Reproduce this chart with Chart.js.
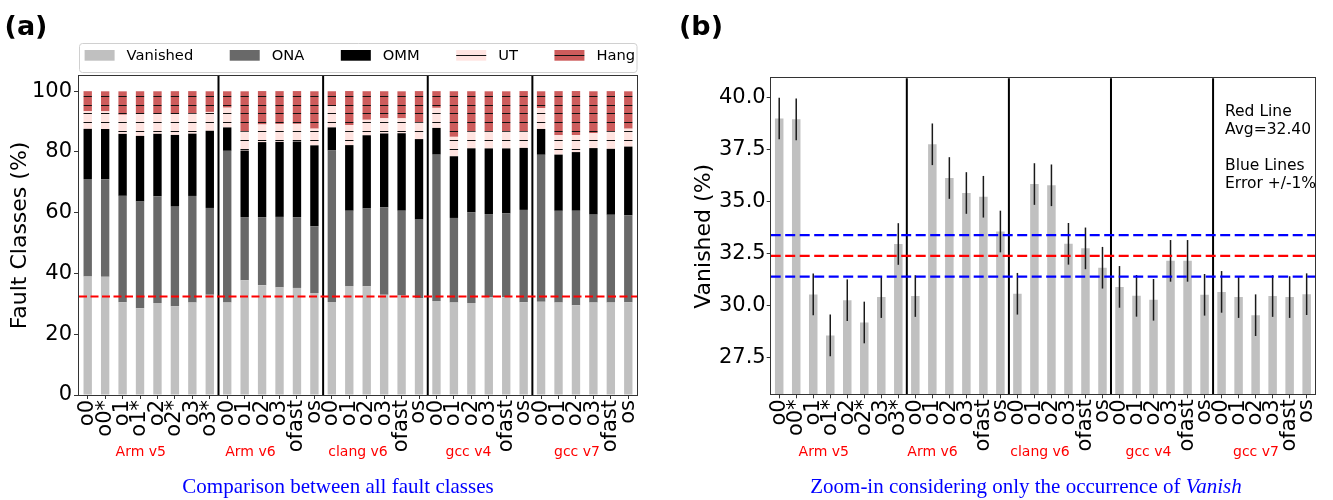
<!DOCTYPE html>
<html><head><meta charset="utf-8">
<script src="https://cdn.jsdelivr.net/npm/chart.js@4.4.1/dist/chart.umd.min.js"></script>
<style>
html,body{margin:0;padding:0;background:#fff;}
#wrap{position:relative;width:1333px;height:500px;overflow:hidden;background:#fff;}
#ca{position:absolute;left:0;top:0;}
#cb{position:absolute;left:666px;top:0;}
.lbl{position:absolute;white-space:nowrap;transform:translate(-50%,-50%);line-height:1;}
.panel{font-family:"DejaVu Sans";font-weight:bold;font-size:27px;color:#000;}
.grp{font-family:"DejaVu Sans";font-size:14px;color:#ff0000;}
.cap{font-family:"Liberation Serif";font-size:21px;color:#0000ff;}
</style></head><body>
<div id="wrap">
<canvas id="ca" width="666" height="500"></canvas>
<canvas id="cb" width="667" height="500"></canvas>
</div>
<script>
// ---------------- data ----------------
const categories = ['o0','o0*','o1','o1*','o2','o2*','o3','o3*',
  'o0','o1','o2','o3','ofast','os',
  'o0','o1','o2','o3','ofast','os',
  'o0','o1','o2','o3','ofast','os',
  'o0','o1','o2','o3','ofast','os'];
const groups = ['Arm v5','Arm v6','clang v6','gcc v4','gcc v7'];
const groupSizes = [8,6,6,6,6];
const seriesNames = ['Vanished','ONA','OMM','UT','Hang'];
const vanished = [39.0,38.96,30.55,28.58,30.27,29.2,30.42,32.97,
  30.47,37.76,36.14,35.42,35.24,33.57,
  30.58,35.85,35.79,32.98,32.76,31.83,
  30.91,30.48,30.29,32.16,32.16,30.53,
  30.67,30.42,29.55,30.47,30.42,30.56];
const ona = [32.1,32.0,35.0,35.1,35.1,32.8,35.1,28.6,
  49.9,20.8,22.4,23.2,23.3,22.0,
  49.9,24.8,25.6,28.8,27.9,25.9,
  48.2,27.8,29.8,27.4,27.6,30.4,
  48.4,30.2,31.1,28.9,28.9,28.6];
const omm = [16.5,16.6,20.4,21.6,20.6,23.6,20.5,25.4,
  7.7,21.9,24.7,24.7,24.9,26.6,
  7.6,21.6,24.1,24.3,25.5,26.5,
  8.8,20.3,21.1,21.6,21.4,20.4,
  8.5,18.5,19.3,21.9,21.7,22.6];
const ut = [5.8,5.8,6.3,7.2,6.5,6.9,6.7,6.2,
  6.5,6.3,5.8,5.9,5.8,5.5,
  7.0,6.6,5.1,5.0,4.9,5.4,
  6.6,6.4,5.5,5.5,5.5,5.4,
  6.9,6.4,5.6,4.9,5.8,5.9];
const hang = [6.6,6.6,7.7,7.5,7.5,7.5,7.3,6.8,
  5.4,13.2,11.0,10.8,10.8,12.3,
  4.9,11.2,9.4,8.9,8.9,10.4,
  5.5,15.0,13.3,13.3,13.3,13.3,
  5.5,14.5,14.5,13.8,13.2,12.3];
const vanishedErr = [1,1,1,1,1,1,1,1, 1,1,1,1,1,1, 1,1,1,1,1,1, 1,1,1,1,1,1, 1,1,1,1,1,1];
const AVG = 32.40;
const BAND = 1.0;
const yTicksA = [0,20,40,60,80,100];
const yTicksB = [27.5,30.0,32.5,35.0,37.5,40.0];

// ---------------- html texts ----------------
const wrap = document.getElementById('wrap');
function addText(cls, html, x, y){
  const d=document.createElement('div'); d.className='lbl '+cls; d.innerHTML=html;
  d.style.left=x+'px'; d.style.top=y+'px'; wrap.appendChild(d);
}
addText('panel','(a)',26,25);
addText('panel','(b)',701,25);
const grpXA=[140.8,250.4,358,468.5,577], grpXB=[823.8,932.5,1040,1148.5,1256];
groups.forEach((g,i)=>{ addText('grp',g,grpXA[i],451); addText('grp',g,grpXB[i],451); });
addText('cap','Comparison between all fault classes',338,486);
addText('cap','Zoom-in considering only the occurrence of <i>Vanish</i>',1026,486);

// ---------------- hatch patterns ----------------
function hatch(color, rows, tileH){
  const c=document.createElement('canvas'); c.width=8; c.height=tileH;
  const g=c.getContext('2d'); g.fillStyle=color; g.fillRect(0,0,8,tileH);
  g.fillStyle='#111'; rows.forEach(r=>g.fillRect(0,r,8,1));
  return g.createPattern(c,'repeat');
}
const hatchRows=[7,16,25,34,43,52];
const utPat = hatch('#ffe4e1', hatchRows, 53);
const hangPat = hatch('#cd5c5c', hatchRows, 53);
const legendFill = {UT: hatch('#ffe4e1', [55], 110), Hang: hatch('#cd5c5c', [55], 110)};

const FONT='DejaVu Sans';
const tickFont={family:FONT,size:21};

// ---------------- plugins ----------------
function seg(ctx,x1,y1,x2,y2){ctx.beginPath();ctx.moveTo(x1,y1);ctx.lineTo(x2,y2);ctx.stroke();}
function separators(chart){
  const {ctx,chartArea:a,scales:{x}}=chart;
  ctx.setLineDash([]); ctx.strokeStyle='#000'; ctx.lineWidth=2;
  let idx=0;
  groupSizes.slice(0,-1).forEach(n=>{ idx+=n;
    const px=(x.getPixelForValue(idx-1)+x.getPixelForValue(idx))/2;
    seg(ctx,px,a.top,px,a.bottom); });
}
function frame(chart){
  const {ctx,chartArea:a}=chart;
  ctx.setLineDash([]); ctx.strokeStyle='#333'; ctx.lineWidth=1;
  ctx.strokeRect(Math.round(a.left)-0.5,Math.round(a.top)-0.5,Math.round(a.right-a.left)+1,Math.round(a.bottom-a.top)+1);
}
const legendA={
  id:'legendA',
  afterDraw(chart){
    const {ctx,chartArea:a}=chart; ctx.save();
    ctx.strokeStyle='#d0d0d0'; ctx.lineWidth=1;
    ctx.beginPath(); ctx.roundRect(a.left+0.5,43.5,a.right-a.left-0.5,29,3); ctx.stroke();
    ctx.font='14.7px "DejaVu Sans"'; ctx.textBaseline='middle'; ctx.textAlign='left';
    let x=84.6;
    chart.data.datasets.forEach(ds=>{
      ctx.fillStyle=legendFill[ds.label]||ds.backgroundColor;
      ctx.fillRect(x,50,30,10.7);
      ctx.fillStyle='#000'; ctx.fillText(ds.label,x+42,55.8);
      x+=42+ctx.measureText(ds.label).width+36.5;
    });
    ctx.restore();
  }
};
const overlayA={
  id:'overlayA',
  afterDatasetsDraw(chart){
    const {ctx,chartArea:a,scales:{y}}=chart; ctx.save();
    separators(chart);
    ctx.strokeStyle='#ff0000'; ctx.lineWidth=2; ctx.setLineDash([8,3.5]);
    const yy=y.getPixelForValue(AVG); seg(ctx,a.left,yy,a.right,yy);
    frame(chart); ctx.restore();
  }
};
const overlayB={
  id:'overlayB',
  afterDatasetsDraw(chart){
    const {ctx,chartArea:a,scales:{x,y}}=chart; ctx.save();
    ctx.strokeStyle='#1a1a1a'; ctx.lineWidth=1.5; ctx.setLineDash([]);
    vanished.forEach((v,i)=>{ const px=x.getPixelForValue(i);
      seg(ctx,px,y.getPixelForValue(v-vanishedErr[i]),px,y.getPixelForValue(v+vanishedErr[i])); });
    separators(chart);
    ctx.lineWidth=2.2; ctx.setLineDash([10,4.5]);
    ctx.strokeStyle='#0000ff';
    [AVG+BAND,AVG-BAND].forEach(v=>{const yy=y.getPixelForValue(v); seg(ctx,a.left,yy,a.right,yy);});
    ctx.strokeStyle='#ff0000';
    const yr=y.getPixelForValue(AVG); seg(ctx,a.left,yr,a.right,yr);
    frame(chart);
    ctx.setLineDash([]); ctx.fillStyle='#000'; ctx.font='15.5px "DejaVu Sans"';
    ctx.textBaseline='middle'; ctx.textAlign='left';
    const notes=['Red Line','Avg='+AVG.toFixed(2),'','Blue Lines','Error +/-'+BAND.toFixed(0)+'%'];
    notes.forEach((t,i)=>{ if(t) ctx.fillText(t,559,111.7+i*18.1); });
    ctx.restore();
  }
};

// ---------------- chart (a) ----------------
const barA={categoryPercentage:1,barPercentage:0.48,borderWidth:0};
new Chart(document.getElementById('ca'),{
  type:'bar',
  data:{labels:categories,datasets:[
    Object.assign({label:seriesNames[0],data:vanished,backgroundColor:'#c0c0c0'},barA),
    Object.assign({label:seriesNames[1],data:ona,backgroundColor:'#696969'},barA),
    Object.assign({label:seriesNames[2],data:omm,backgroundColor:'#000000'},barA),
    Object.assign({label:seriesNames[3],data:ut,backgroundColor:utPat},barA),
    Object.assign({label:seriesNames[4],data:hang,backgroundColor:hangPat},barA)
  ]},
  options:{
    responsive:false,animation:false,
    layout:{padding:{left:4,right:29,top:76,bottom:0}},
    plugins:{tooltip:{enabled:false},legend:{display:false}},
    scales:{
      x:{stacked:true,
        grid:{display:true,offset:false,drawOnChartArea:false,drawTicks:true,tickLength:4,color:'#333'},
        border:{display:false},
        ticks:{autoSkip:false,maxRotation:90,minRotation:90,padding:1,color:'#000',font:tickFont},
        afterFit:s=>{s.height=105;}},
      y:{stacked:true,min:0,max:105,
        afterBuildTicks:s=>{s.ticks=yTicksA.map(v=>({value:v}));},
        ticks:{color:'#000',font:tickFont,padding:2},
        grid:{display:true,drawOnChartArea:false,drawTicks:true,tickLength:5,color:'#333'},
        border:{display:false},
        title:{display:true,text:'Fault Classes (%)',color:'#000',font:{family:FONT,size:22},padding:{top:3,bottom:0}},
        afterFit:s=>{s.width=75;}}
    }
  },
  plugins:[legendA,overlayA]
});

// ---------------- chart (b) ----------------
new Chart(document.getElementById('cb'),{
  type:'bar',
  data:{labels:categories,datasets:[
    {label:seriesNames[0],data:vanished,backgroundColor:'#c0c0c0',categoryPercentage:1,barPercentage:0.5,borderWidth:0}
  ]},
  options:{
    responsive:false,animation:false,
    layout:{padding:{left:22,right:9.7,top:78.3,bottom:0}},
    plugins:{tooltip:{enabled:false},legend:{display:false}},
    scales:{
      x:{grid:{display:true,offset:false,drawOnChartArea:false,drawTicks:true,tickLength:4,color:'#333'},
        border:{display:false},
        ticks:{autoSkip:false,maxRotation:90,minRotation:90,padding:1,color:'#000',font:tickFont},
        afterFit:s=>{s.height=105.7;}},
      y:{min:25.75,max:40.93,
        afterBuildTicks:s=>{s.ticks=yTicksB.map(v=>({value:v}));},
        ticks:{color:'#000',font:tickFont,padding:1,callback:v=>Number(v).toFixed(1)},
        grid:{display:true,drawOnChartArea:false,drawTicks:true,tickLength:4,color:'#333'},
        border:{display:false},
        title:{display:true,text:'Vanished (%)',color:'#000',font:{family:FONT,size:22},padding:{top:3,bottom:0}},
        afterFit:s=>{s.width=82.7;}}
    }
  },
  plugins:[overlayB]
});
</script>
</body></html>
